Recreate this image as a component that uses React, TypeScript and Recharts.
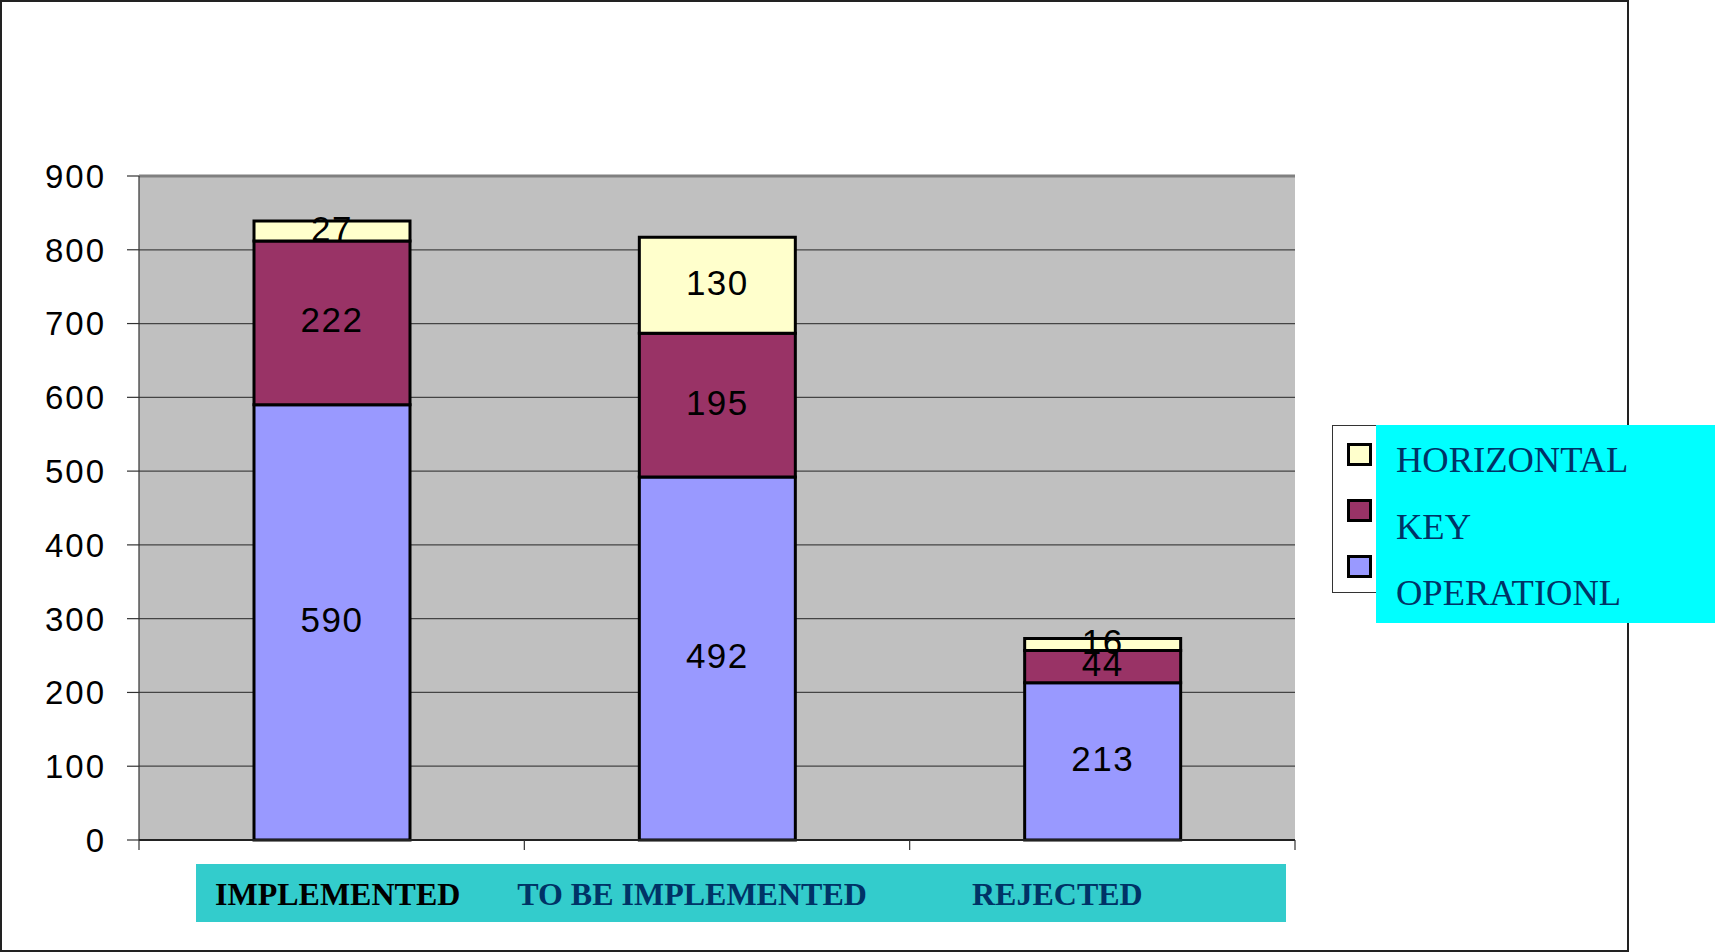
import React from 'react'
import { BarChart, Bar, XAxis, YAxis, CartesianGrid, LabelList, ReferenceLine } from 'recharts'

const categories = ['IMPLEMENTED', 'TO BE IMPLEMENTED', 'REJECTED']
const operationl = [590, 492, 213]
const keyVals = [222, 195, 44]
const horizontal = [27, 130, 16]
const yTicks = [0, 100, 200, 300, 400, 500, 600, 700, 800, 900]

const series = [
  { key: 'OPERATIONL', values: operationl, color: '#9999FF' },
  { key: 'KEY', values: keyVals, color: '#993366' },
  { key: 'HORIZONTAL', values: horizontal, color: '#FFFFCC' },
]

const data = categories.map((c, i) => {
  const row: Record<string, string | number> = { name: c }
  series.forEach((s) => { row[s.key] = s.values[i] })
  return row
})

// layout
const W = 1715
const H = 952
const PLOT_L = 139
const PLOT_R = 1295
const PLOT_T = 176
const PLOT_B = 840
const BAND = (PLOT_R - PLOT_L) / categories.length
const labelShift = [6, -25, -45]
const labelColor = ['#000000', '#003366', '#003366']

const sans = '"Liberation Sans", Arial, sans-serif'
const serif = '"Liberation Serif", "Times New Roman", serif'

const YTick = (props: any) => {
  const { y, payload } = props
  return (
    <text x={106} y={y} dy="0.36em" textAnchor="end" fontFamily={sans} fontSize={33}
      letterSpacing={2} fill="#000">
      {payload.value}
    </text>
  )
}

const XTick = (props: any) => {
  const { x, payload, index } = props
  const left = x - BAND / 2
  return (
    <g>
      {index === 0 && (
        <rect x={196} y={864} width={1090} height={58} fill="#33CCCC" />
      )}
      <line x1={left} x2={left} y1={PLOT_B} y2={PLOT_B + 10} stroke="#333" strokeWidth={1.2} />
      {index === categories.length - 1 && (
        <line x1={left + BAND} x2={left + BAND} y1={PLOT_B} y2={PLOT_B + 10} stroke="#333" strokeWidth={1.2} />
      )}
      <text x={x + labelShift[index]} y={905} textAnchor="middle" fontFamily={serif}
        fontWeight="bold" fontSize={32} fill={labelColor[index]}>
        {payload.value}
      </text>
    </g>
  )
}

const BarLabel = (props: any) => {
  const { x, y, width, height, value } = props
  return (
    <text x={x + width / 2} y={y + height / 2 - 3} dy="0.36em" textAnchor="middle"
      fontFamily={sans} fontSize={35} letterSpacing={1.5} fill="#000">
      {value}
    </text>
  )
}

function LegendBox() {
  const items = [...series].reverse()
  return (
    <svg width={383} height={198} style={{ position: 'absolute', left: 1332, top: 425 }}>
      <rect x={0.5} y={0.5} width={284} height={167} fill="#fff" stroke="#333" strokeWidth={1} />
      {items.map((s, i) => (
        <rect key={s.key} x={16.5} y={19.5 + i * 56} width={22} height={20} fill={s.color}
          stroke="#000" strokeWidth={3} />
      ))}
      <rect x={44} y={0} width={339} height={198} fill="#00FFFF" />
      {items.map((s, i) => (
        <text key={s.key} x={64} y={47 + i * 66.5} fontFamily={serif} fontSize={36.5} fill="#003366">
          {s.key}
        </text>
      ))}
    </svg>
  )
}

export default function App() {
  return (
    <div style={{ position: 'absolute', left: 0, top: 0, width: W, height: H, background: '#fff' }}>
      <div style={{
        position: 'absolute', left: 0, top: 0, width: 1629, height: 952,
        boxSizing: 'border-box', border: '2px solid #222',
      }} />
      <div style={{ position: 'absolute', left: 0, top: 0 }}>
        <BarChart width={W} height={H} data={data}
          margin={{ top: PLOT_T, right: W - PLOT_R, bottom: 12, left: 0 }}>
          <CartesianGrid vertical={false} fill="#C0C0C0" stroke="#444" strokeWidth={1.2} />
          <XAxis dataKey="name" height={100} tickLine={false} axisLine={{ stroke: '#222', strokeWidth: 2 }}
            tick={<XTick />} interval={0} />
          <YAxis width={PLOT_L} domain={[0, 900]} ticks={yTicks} interval={0} tickSize={12}
            tickLine={{ stroke: '#333', strokeWidth: 1.2 }} axisLine={{ stroke: '#333', strokeWidth: 1.2 }}
            tick={<YTick />} />
          <YAxis yAxisId="r" orientation="right" width={0} tick={false} tickLine={false}
            axisLine={{ stroke: '#808080', strokeWidth: 3 }} />
          <ReferenceLine y={900} stroke="#808080" strokeWidth={3} />
          {series.map((s) => (
            <Bar key={s.key} dataKey={s.key} stackId="a" fill={s.color} stroke="#000" strokeWidth={3}
              barSize={156} isAnimationActive={false}>
              <LabelList dataKey={s.key} content={<BarLabel />} />
            </Bar>
          ))}
        </BarChart>
      </div>
      <LegendBox />
    </div>
  )
}
